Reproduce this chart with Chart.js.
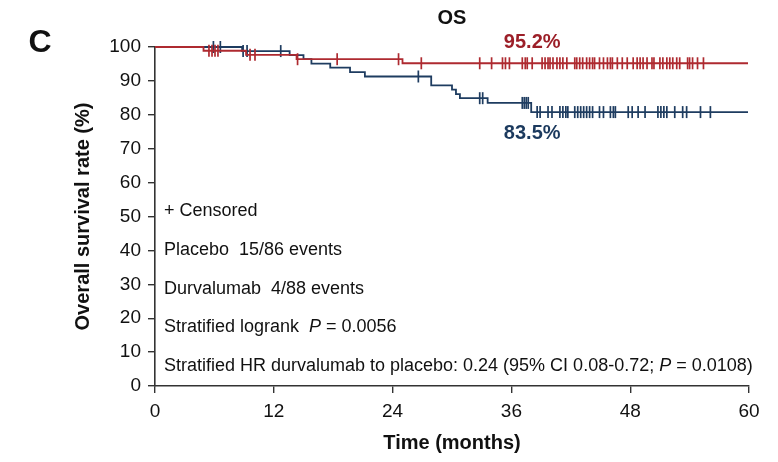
<!DOCTYPE html>
<html>
<head>
<meta charset="utf-8">
<script src="https://cdn.jsdelivr.net/npm/chart.js@4/dist/chart.umd.min.js"></script>
<style>
  html, body { margin: 0; padding: 0; background: #ffffff; }
  #wrap { width: 778px; height: 462px; position: relative; }
</style>
</head>
<body>
<div id="wrap"><canvas id="os" width="778" height="462"></canvas></div>
<script>
// Kaplan-Meier overall survival, durvalumab vs placebo
const xTicks = [0, 12, 24, 36, 48, 60];

// step points: time (months) where the curve changes, and the survival (%) from that time on
const durvaTimes = [0, 4.9, 9.2, 14.3, 25.0, 59.9];
const durvaSurv  = [100, 98.9, 97.7, 96.4, 95.2, 95.2];

const placeboTimes = [0, 8.8, 13.6, 15.0, 15.8, 17.7, 19.7, 21.2, 27.9, 30.0, 30.4, 30.8, 33.6, 38.0, 59.9];
const placeboSurv  = [100, 98.8, 97.6, 96.4, 95.1, 93.9, 92.6, 91.3, 88.7, 87.4, 86.1, 84.9, 83.5, 80.8, 80.8];

// censored observations (months)
const durvaCensored = [5.45, 5.76, 6.06, 6.36, 9.6, 10.1, 14.4, 18.4, 24.6, 26.9, 32.8, 34.0, 35.1, 35.4, 35.8,
  37.1, 37.4, 37.6, 38.1, 39.1, 39.4, 39.7, 39.9, 40.2, 40.6, 40.9, 41.2, 41.6, 42.4, 42.6, 42.9, 43.2,
  43.6, 43.9, 44.2, 44.4, 44.9, 45.3, 45.7, 46.0, 46.2, 46.7, 47.2, 47.7, 48.3, 48.7, 49.0, 49.3, 49.7,
  50.2, 50.4, 51.0, 51.3, 51.7, 52.0, 52.3, 52.7, 53.0, 53.8, 54.0, 54.3, 54.8, 55.4];
const placeboCensored = [5.9, 6.6, 8.9, 9.3, 12.7, 26.6, 32.8, 33.1, 37.1, 37.3, 37.5, 37.7, 38.6, 38.9, 39.7,
  40.1, 40.9, 41.2, 41.5, 41.7, 42.4, 42.7, 43.0, 43.3, 43.6, 43.9, 44.2, 44.9, 45.3, 46.0, 46.3, 46.5,
  47.8, 48.2, 48.8, 49.5, 50.8, 51.1, 51.4, 51.7, 52.5, 53.3, 53.7, 55.1, 56.1];

// 36-month landmark rates
const landmarkMonth = 36;
const durvaLandmark = 95.2;
const placeboLandmark = 83.5;

const RED = '#ae2a30';
const RED_TXT = '#9c1f28';
const BLUE = '#1e3c60';
const BLUE_TXT = '#1c3a5e';
const FONT = '"Liberation Sans", Arial, Helvetica, sans-serif';

function steps(times, surv) {
  return times.map((t, i) => ({ x: t, y: surv[i] }));
}
function survAt(times, surv, t) {
  let v = surv[0];
  for (let i = 0; i < times.length; i++) { if (times[i] <= t) v = surv[i]; }
  return v;
}
function marks(cens, times, surv) {
  return cens.map(t => ({ x: t, y: survAt(times, surv, t) }));
}

const textPlugin = {
  id: 'osText',
  afterDatasetsDraw(chart) {
    const ctx = chart.ctx;
    const xs = chart.scales.x, ys = chart.scales.y;
    ctx.save();
    ctx.fillStyle = '#111';
    ctx.textBaseline = 'middle';

    // panel letter and title
    ctx.textAlign = 'center';
    ctx.font = 'bold 32px ' + FONT;
    ctx.fillText('C', 40, 43);
    ctx.font = 'bold 20px ' + FONT;
    ctx.fillText('OS', (chart.chartArea.left + chart.chartArea.right) / 2, 18);

    // landmark rates
    const lx = xs.getPixelForValue(landmarkMonth + 2.1);
    ctx.fillStyle = RED_TXT;
    ctx.fillText(durvaLandmark.toFixed(1) + '%', lx, ys.getPixelForValue(durvaLandmark) - 21);
    ctx.fillStyle = BLUE_TXT;
    ctx.fillText(placeboLandmark.toFixed(1) + '%', lx, ys.getPixelForValue(placeboLandmark) + 31);

    // statistics block
    ctx.fillStyle = '#111';
    ctx.textAlign = 'left';
    const x0 = xs.getPixelForValue(0.9);
    const lines = [
      [['+ Censored', false]],
      [['Placebo  15/86 events', false]],
      [['Durvalumab  4/88 events', false]],
      [['Stratified logrank  ', false], ['P', true], [' = 0.0056', false]],
      [['Stratified HR durvalumab to placebo: 0.24 (95% CI 0.08-0.72; ', false], ['P', true], [' = 0.0108)', false]]
    ];
    const rows = [51.6, 40.1, 28.6, 17.4, 5.9];
    lines.forEach((parts, i) => {
      let x = x0;
      const y = ys.getPixelForValue(rows[i]);
      parts.forEach(([s, it]) => {
        ctx.font = (it ? 'italic ' : '') + '18px ' + FONT;
        ctx.fillText(s, x, y);
        x += ctx.measureText(s).width;
      });
    });
    ctx.restore();
  }
};

new Chart(document.getElementById('os'), {
  type: 'line',
  data: {
    datasets: [
      { label: 'Durvalumab', data: steps(durvaTimes, durvaSurv), stepped: true,
        borderColor: RED, borderWidth: 1.8, pointRadius: 0, fill: false, clip: false },
      { label: 'Durvalumab censored', type: 'scatter', data: marks(durvaCensored, durvaTimes, durvaSurv),
        pointStyle: 'line', rotation: 90, radius: 6, borderColor: RED, borderWidth: 1.7, showLine: false, clip: false },
      { label: 'Placebo', data: steps(placeboTimes, placeboSurv), stepped: true,
        borderColor: BLUE, borderWidth: 1.8, pointRadius: 0, fill: false, clip: false },
      { label: 'Placebo censored', type: 'scatter', data: marks(placeboCensored, placeboTimes, placeboSurv),
        pointStyle: 'line', rotation: 90, radius: 6, borderColor: BLUE, borderWidth: 1.7, showLine: false, clip: false }
    ]
  },
  options: {
    responsive: false,
    animation: false,
    events: [],
    layout: { padding: { left: 0, right: 29, top: 47, bottom: 0 } },
    plugins: { legend: { display: false }, tooltip: { enabled: false } },
    scales: {
      x: {
        type: 'linear', min: 0, max: 60,
        afterBuildTicks: s => { s.ticks = xTicks.map(v => ({ value: v })); },
        ticks: { font: { family: FONT, size: 19 }, color: '#111', padding: 7, maxRotation: 0 },
        grid: { drawOnChartArea: false, drawTicks: true, tickLength: 7, color: '#333', lineWidth: 1.4 },
        border: { display: true, color: '#333', width: 1.6 },
        title: { display: true, text: 'Time (months)', color: '#111',
          font: { family: FONT, size: 20, weight: 'bold' }, padding: { top: 0, bottom: 7 } },
        afterFit: s => { s.height = 76; s.paddingLeft = 0; s.paddingRight = 0; }
      },
      y: {
        min: 0, max: 100,
        ticks: { stepSize: 10, font: { family: FONT, size: 19 }, color: '#111', padding: 7 },
        grid: { drawOnChartArea: false, drawTicks: true, tickLength: 7, color: '#333', lineWidth: 1.4 },
        border: { display: true, color: '#333', width: 1.6 },
        title: { display: true, text: 'Overall survival rate (%)', color: '#111',
          font: { family: FONT, size: 20, weight: 'bold' }, padding: { top: 71, bottom: 0 } },
        afterFit: s => { s.width = 155; s.paddingTop = 0; s.paddingBottom = 0; }
      }
    }
  },
  plugins: [textPlugin]
});
</script>
</body>
</html>
